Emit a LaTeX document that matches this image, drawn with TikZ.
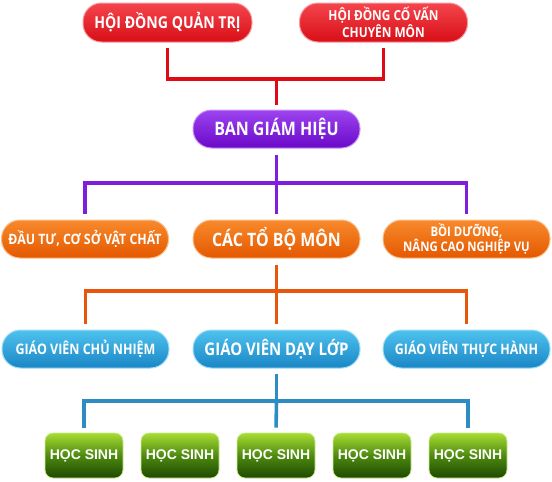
\documentclass[tikz,border=0pt]{standalone}
\usepackage{fontspec}
\setmainfont{Open Sans}[FakeStretch=0.86]
\newfontfamily\hsfont{Liberation Sans}
\usetikzlibrary{calc}
\definecolor{redT}{HTML}{F4454C}
\definecolor{redB}{HTML}{D80E17}
\definecolor{redL}{HTML}{DE0A14}
\definecolor{purT}{HTML}{9D44F0}
\definecolor{purB}{HTML}{6A08C8}
\definecolor{purL}{HTML}{7E1FE0}
\definecolor{oraT}{HTML}{F88A2C}
\definecolor{oraB}{HTML}{E45800}
\definecolor{oraL}{HTML}{E8560C}
\definecolor{bluT}{HTML}{4EC2EE}
\definecolor{bluB}{HTML}{1A86C6}
\definecolor{bluL}{HTML}{2C8CC4}
\definecolor{grnT}{HTML}{A8DC34}
\definecolor{grnM}{HTML}{4E8A10}
\definecolor{grnB}{HTML}{1E4800}
\tikzset{
  pill/.style={rectangle, rounded corners=18.5pt, minimum width=167pt, minimum height=38pt,
    inner sep=2pt, align=center, text=white, font=\bfseries, line width=1pt},
  redbox/.style={pill, top color=redT, bottom color=redB, draw=redT!55!white},
  purbox/.style={pill, top color=purT, bottom color=purB, draw=purT!55!white},
  orabox/.style={pill, top color=oraT, bottom color=oraB, draw=oraT!55!white},
  blubox/.style={pill, top color=bluT, bottom color=bluB, draw=bluT!55!white},
  hsbox/.style={rectangle, rounded corners=8pt, minimum width=78pt, minimum height=45pt,
    inner sep=1pt, text=white, font=\hsfont\bfseries\fontsize{14}{14}\selectfont,
    top color=grnT, bottom color=grnB, middle color=grnM, draw=grnT!60!white, line width=0.8pt},
  conn/.style={line width=3.6pt},
  rline/.style={conn, draw=redL},
  pline/.style={conn, draw=purL},
  oline/.style={conn, draw=oraL},
  bline/.style={conn, draw=bluL},
}
\begin{document}
\begin{tikzpicture}[x=1pt, y=-1pt]
\useasboundingbox (0,0) rectangle (552,482);
% row 1
\node[redbox, minimum width=169pt, minimum height=39pt, font=\bfseries\fontsize{16.4}{16}\selectfont] (hdqt) at (167.5,22.5) {HỘI ĐỒNG QUẢN TRỊ};
\node[redbox, minimum width=168pt, minimum height=39pt, font=\bfseries\fontsize{13.8}{13.8}\selectfont] (hdcv) at (383.5,22.5) {HỘI ĐỒNG CỐ VẤN\\CHUYÊN MÔN};
% row 2
\node[purbox, font=\bfseries\fontsize{18.6}{18}\selectfont] (bgh) at (276.5,129) {BAN GIÁM HIỆU};
% row 3
\node[orabox, font=\bfseries\fontsize{14.3}{15}\selectfont] (dautu) at (85,239) {ĐẦU TƯ, CƠ SỞ VẬT CHẤT};
\node[orabox, font=\bfseries\fontsize{18.5}{18}\selectfont] (cacto) at (276.5,239) {CÁC TỔ BỘ MÔN};
\node[orabox, font=\bfseries\fontsize{13.2}{13.6}\selectfont] (boiduong) at (466.5,239) {BỒI DƯỠNG,\\NÂNG CAO NGHIỆP VỤ};
% row 4
\node[blubox, font=\bfseries\fontsize{14.5}{15}\selectfont] (gvcn) at (85.5,349) {GIÁO VIÊN CHỦ NHIỆM};
\node[blubox, font=\bfseries\fontsize{17.4}{17}\selectfont] (gvdl) at (276.5,349) {GIÁO VIÊN DẠY LỚP};
\node[blubox, font=\bfseries\fontsize{14.4}{15}\selectfont] (gvth) at (466.5,349) {GIÁO VIÊN THỰC HÀNH};
% row 5
\node[hsbox] (hs1) at (84,455.5) {HỌC SINH};
\node[hsbox] (hs2) at (180,455.5) {HỌC SINH};
\node[hsbox] (hs3) at (276,455.5) {HỌC SINH};
\node[hsbox] (hs4) at (372,455.5) {HỌC SINH};
\node[hsbox] (hs5) at (468,455.5) {HỌC SINH};
% junctions
\coordinate (j1) at (276.5,79);
\coordinate (j2) at (276.5,183);
\coordinate (j3) at (276.5,291);
\coordinate (j4) at (276.5,401);
% red connectors
\draw[rline, shorten <=5pt] (hdqt.south) |- (j1);
\draw[rline, shorten <=5pt] (hdcv.south) |- (j1);
\draw[rline, shorten >=5pt] (j1) -- (bgh.north);
% purple connectors
\draw[pline, shorten <=6pt] (bgh.south) -- (j2);
\draw[pline, shorten >=6pt] (j2) -| (dautu.north);
\draw[pline, shorten >=6pt] (j2) -- (cacto.north);
\draw[pline, shorten >=6pt] (j2) -| (boiduong.north);
% orange connectors
\draw[oline, shorten <=6pt] (cacto.south) -- (j3);
\draw[oline, shorten >=6pt] (j3) -| (gvcn.north);
\draw[oline, shorten >=6pt] (j3) -- (gvdl.north);
\draw[oline, shorten >=6pt] (j3) -| (gvth.north);
% blue connectors
\draw[bline, shorten <=5pt] (gvdl.south) -- (j4);
\draw[bline, shorten >=5pt] (j4) -| (hs1.north);
\draw[bline, shorten >=5pt] (j4) -- (hs3.north);
\draw[bline, shorten >=5pt] (j4) -| (hs5.north);
\end{tikzpicture}
\end{document}
